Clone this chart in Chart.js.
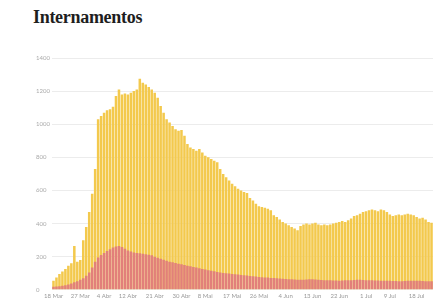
<!DOCTYPE html>
<html>
<head>
<meta charset="utf-8">
<script src="https://cdn.jsdelivr.net/npm/chart.js@4"></script>
<style>
  html, body { margin: 0; padding: 0; background: #fff; }
  #wrap { position: relative; width: 444px; height: 303px; }
  h1 {
    position: absolute; left: 33px; top: 7px; margin: 0;
    font-family: "Liberation Serif", "DejaVu Serif", serif;
    font-size: 18px; font-weight: bold; color: #1e1e1e; letter-spacing: -0.3px;
  }
  canvas { position: absolute; left: 0; top: 0; }
</style>
</head>
<body>
<div id="wrap">
  <h1>Internamentos</h1>
  <canvas id="myChart" width="444" height="303"></canvas>
</div>
<script>
// dias: 18 Mar ate 23 Jul
const startDay = 18;
const months = [['Mar', 31], ['Abr', 30], ['Mai', 31], ['Jun', 30], ['Jul', 31]];
const dayCount = 128;

// rotulos que aparecem no eixo x
const tickLabels = ['18 Mar', '27 Mar', '4 Abr', '12 Abr', '21 Abr', '30 Abr', '8 Mai', '17 Mai',
  '26 Mai', '4 Jun', '13 Jun', '22 Jun', '1 Jul', '9 Jul', '18 Jul'];

// internados (total)
const internados = [
  55, 75, 95, 110, 125, 145, 160, 265, 170, 180,
  300, 380, 470, 580, 730, 1030, 1050, 1070, 1085, 1090,
  1105, 1170, 1210, 1180, 1185, 1180, 1190, 1200, 1210, 1275,
  1250, 1240, 1225, 1210, 1190, 1160, 1110, 1070, 1030, 1010,
  990, 970, 960, 965, 930, 880, 860, 850, 840, 850,
  830, 810, 800, 790, 780, 770, 730, 700, 680, 660,
  640, 625, 610, 600, 590, 585, 555, 540, 520, 505,
  500, 495, 490, 480, 450, 440, 425, 410, 400, 390,
  380, 370, 360, 385, 395, 400, 395, 400, 405, 395,
  390, 395, 390, 395, 400, 405, 410, 415, 410, 420,
  430, 445, 450, 460, 470, 475, 480, 485, 480, 475,
  485, 480, 470, 455, 445, 450, 455, 450, 455, 460,
  455, 450, 440, 430, 435, 425, 410, 405
];

// cuidados intensivos
const uci = [
  18, 20, 22, 25, 28, 32, 38, 45, 52, 60,
  70, 85, 105, 135, 170, 195, 210, 222, 235, 245,
  255, 262, 265, 258, 248, 238, 232, 226, 222, 220,
  218, 215, 212, 208, 200, 194, 188, 182, 176, 170,
  166, 162, 158, 154, 150, 146, 142, 138, 134, 130,
  126, 122, 118, 115, 112, 108, 105, 102, 100, 98,
  96, 94, 92, 90, 88, 86, 84, 82, 80, 78,
  76, 75, 74, 72, 71, 70, 68, 66, 65, 64,
  63, 62, 61, 60, 60, 62, 64, 63, 62, 60,
  59, 58, 58, 57, 56, 56, 55, 56, 57, 58,
  58, 59, 60, 60, 59, 58, 58, 57, 56, 56,
  55, 55, 54, 54, 53, 53, 52, 52, 53, 54,
  54, 55, 55, 54, 53, 52, 52, 51
];

const labels = [];
let m = 0, d = startDay;
for (let i = 0; i < dayCount; i++) {
  labels.push(d + ' ' + months[m][0]);
  d++;
  if (d > months[m][1]) { d = 1; m++; }
}

const ctx = document.getElementById('myChart').getContext('2d');
new Chart(ctx, {
  type: 'bar',
  data: {
    labels: labels,
    datasets: [
      {
        label: 'Cuidados intensivos',
        data: uci,
        backgroundColor: '#e2807a',
        order: 0,
        grouped: false,
        barPercentage: 0.85,
        categoryPercentage: 1
      },
      {
        label: 'Internados',
        data: internados,
        backgroundColor: '#f3c94d',
        order: 1,
        grouped: false,
        barPercentage: 0.85,
        categoryPercentage: 1
      }
    ]
  },
  options: {
    responsive: false,
    animation: false,
    layout: { padding: { top: 58, left: 36, right: 11, bottom: 0 } },
    plugins: { legend: { display: false }, tooltip: { enabled: false } },
    scales: {
      x: {
        grid: { display: false, drawTicks: false },
        border: { display: false },
        ticks: {
          autoSkip: false,
          maxRotation: 0,
          padding: 3,
          color: '#999',
          font: { family: 'Lato', size: 6 },
          callback: function(value) {
            const l = this.getLabelForValue(value);
            return tickLabels.includes(l) ? l : '';
          }
        }
      },
      y: {
        min: 0,
        max: 1400,
        afterFit: function(scale) { scale.width = 16; },
        grid: { color: '#ececec', drawTicks: false, lineWidth: 1 },
        border: { display: false },
        ticks: {
          stepSize: 200,
          padding: 0,
          crossAlign: 'far',
          color: '#aaa',
          font: { family: 'Lato', size: 6 },
          callback: function(value) { return String(value); }
        }
      }
    }
  }
});
</script>
</body>
</html>
